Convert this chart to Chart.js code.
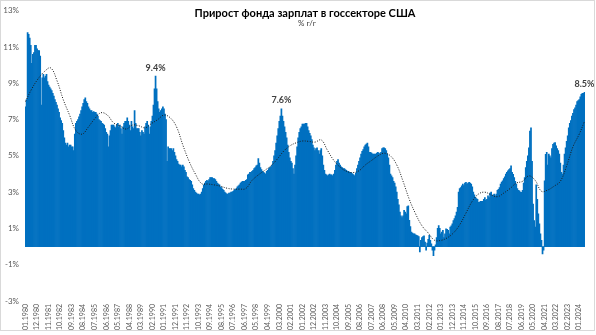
<!DOCTYPE html>
<html lang="ru">
<head>
<meta charset="utf-8">
<title>Прирост фонда зарплат в госсекторе США</title>
<script src="https://cdn.jsdelivr.net/npm/chart.js@4.4.1/dist/chart.umd.min.js"></script>
<style>
  html, body { margin: 0; padding: 0; background: #fff; }
  canvas { display: block; }
</style>
</head>
<body>
<canvas id="grafik" width="596" height="335"></canvas>
<script>
// Первый месяц ряда и количество месяцев (01.1980 - 06.2024)
const nachaloGod = 1980;
const chisloMesyatsev = 534;

// Прирост фонда зарплат, % г/г, помесячно (по строке на год)
const prirost = [
    7.7, 8.1, 11.8, 11.7, 11.5, 11.1, 10.1, 10.6, 10.7, 11.1, 11.1, 10.9,
    10.8, 10.8, 10.5, 7.8, 9.3, 9.5, 9.3, 9.4, 9.5, 9.1, 8.9, 8.8,
    8.7, 8.6, 8.45, 8.3, 8.1, 7.95, 7.8, 7.6, 7.4, 7.1, 6.95, 6.8,
    6.4, 6.0, 5.7, 5.6, 5.7, 5.5, 5.6, 5.6, 5.5, 5.5, 5.3, 6.2,
    6.8, 6.9, 7.0, 7.15, 7.3, 7.5, 7.7, 7.9, 8.1, 8.2, 8.0, 7.9,
    7.7, 7.6, 7.5, 7.5, 7.4, 7.45, 7.4, 7.4, 7.3, 7.2, 7.0, 6.95,
    6.9, 6.8, 6.75, 6.7, 6.5, 6.3, 6.2, 5.5, 6.1, 6.4, 6.7, 6.7,
    6.7, 6.6, 6.55, 6.7, 6.8, 6.6, 6.7, 6.5, 6.2, 6.6, 6.8, 6.9,
    6.9, 7.1, 6.9, 6.7, 6.4, 6.9, 6.6, 6.5, 7.5, 6.8, 6.5, 6.5,
    6.5, 6.3, 6.1, 6.4, 6.3, 6.2, 6.6, 6.8, 6.9, 6.7, 6.2, 6.6,
    6.9, 7.2, 7.8, 8.7, 9.4, 8.7, 8.0, 7.6, 7.4, 7.5, 7.6, 7.7,
    7.6, 7.3, 7.0, 4.7, 5.5, 5.4, 5.4, 5.4, 5.3, 5.4, 5.2, 5.0,
    4.8, 4.7, 4.55, 4.5, 4.5, 4.4, 4.5, 4.4, 4.2, 4.1, 3.85, 3.8,
    3.7, 3.65, 3.6, 3.4, 3.2, 3.1, 3.0, 2.95, 2.9, 2.9, 2.85, 2.9,
    3.0, 3.2, 3.4, 3.5, 3.6, 3.65, 3.6, 3.7, 3.8, 3.8, 3.8, 3.75,
    3.75, 3.7, 3.6, 3.5, 3.45, 3.4, 3.3, 3.25, 3.15, 3.1, 3.0, 2.95,
    2.9, 2.9, 2.95, 2.95, 3.0, 3.0, 3.05, 3.1, 3.15, 3.2, 3.3, 3.35,
    3.4, 3.5, 3.55, 3.6, 3.6, 3.6, 3.65, 3.7, 3.95, 4.0, 4.1, 4.1,
    4.15, 4.2, 4.3, 4.35, 4.45, 4.5, 4.85, 4.6, 4.35, 4.25, 4.15, 4.1,
    4.05, 4.0, 4.15, 4.2, 4.3, 4.35, 4.4, 4.5, 4.7, 5.0, 5.3, 5.7,
    6.1, 6.5, 6.9, 7.2, 7.6, 7.2, 6.9, 6.6, 6.3, 6.0, 5.6, 5.2,
    4.9, 4.7, 4.6, 4.3, 4.0, 4.5, 5.0, 5.5, 6.0, 6.3, 6.5, 6.6,
    6.75, 6.75, 6.75, 6.8, 6.8, 6.6, 6.4, 6.25, 6.1, 5.9, 5.6, 5.45,
    5.3, 5.4, 5.45, 5.3, 5.1, 5.3, 5.4, 5.0, 4.5, 4.2, 4.0, 3.95,
    3.9, 3.95, 4.0, 3.95, 3.95, 3.9, 4.0, 4.2, 4.5, 4.7, 4.8, 4.6,
    4.5, 4.4, 4.35, 4.3, 4.3, 4.25, 4.2, 4.15, 4.15, 4.1, 4.1, 4.05,
    4.0, 3.95, 3.9, 4.05, 4.3, 4.5, 4.7, 4.9, 5.1, 5.25, 5.35, 5.5,
    5.6, 5.65, 5.7, 5.5, 5.2, 5.2, 5.15, 5.1, 5.1, 5.1, 5.1, 5.15,
    5.2, 5.15, 5.1, 5.2, 5.4, 5.45, 5.45, 5.4, 5.3, 5.1, 4.9, 4.5,
    4.0, 3.9, 3.8, 3.6, 3.5, 3.3, 3.0, 2.6, 2.3, 1.9, 1.7, 1.6,
    1.7, 2.0, 1.9, 1.8, 2.2, 2.25, 1.45, 1.1, 0.8, 0.75, 0.7, 0.7,
    0.65, 0.62, 0.6, 0.55, -0.3, 0.34, 0.5, 0.55, 0.6, 0.25, -0.2, 0.2,
    0.4, 0.62, 0.35, 0.15, -0.2, -0.5, -0.2, 0.1, 0.5, 1.0, 1.16, 1.0,
    0.7, 0.8, 0.9, 0.5, 0.7, 0.98, 0.95, 0.9, 0.7, 1.07, 1.15, 1.26,
    1.44, 1.55, 1.7, 1.9, 2.17, 3.0, 3.2, 3.26, 3.35, 3.45, 3.36, 3.5,
    3.54, 3.45, 3.5, 3.54, 3.5, 3.45, 3.3, 3.0, 2.85, 2.72, 2.65, 2.6,
    2.44, 2.45, 2.5, 2.5, 2.5, 2.6, 2.7, 2.55, 2.6, 2.8, 2.7, 2.95,
    3.0, 2.8, 2.85, 2.9, 2.8, 2.9, 3.1, 3.15, 3.25, 3.45, 3.55, 3.63,
    3.75, 3.85, 4.0, 4.1, 4.18, 4.25, 4.3, 4.45, 4.1, 3.99, 3.81, 3.6,
    3.45, 3.2, 3.1, 3.08, 3.0, 2.99, 3.1, 3.5, 3.8, 4.36, 4.7, 5.0,
    5.45, 6.37, 6.55, 4.7, 2.35, 1.44, 1.07, 3.4, 2.6, 1.8, 1.26, 0.7,
    0.34, -0.4, -0.2, 3.63, 5.09, 5.2, 4.5, 5.1, 5.0, 4.9, 5.4, 5.64,
    5.7, 5.73, 5.55, 5.4, 5.3, 5.1, 4.6, 4.1, 4.0, 4.5, 5.1, 5.45,
    5.8, 6.1, 6.55, 6.8, 6.95, 7.2, 7.35, 7.56, 7.65, 7.8, 8.0, 8.05,
    8.1, 8.25, 8.4, 8.45, 8.45, 8.5,
];

// Сглаженная линия тренда: значения раз в полгода (последнее - на последний месяц)
const shagTrenda = 6;
const trend = [
    8.0, 8.7, 9.25, 9.65, 9.85, 9.15, 8.1, 7.25, 6.4, 6.2,
    6.6, 7.05, 7.38, 7.25, 6.82, 6.65, 6.48, 6.7, 6.66, 6.55,
    6.78, 7.0, 7.25, 7.1, 6.6, 5.6, 4.7, 4.0, 3.47, 3.45,
    3.4, 3.33, 3.22, 3.17, 3.17, 3.2, 3.65, 3.95, 4.2, 4.45,
    4.82, 5.25, 5.55, 5.72, 5.82, 5.8, 5.76, 5.88, 5.3, 4.75,
    4.38, 4.15, 4.08, 4.18, 4.5, 4.75, 5.0, 5.15, 5.0, 4.5,
    3.6, 2.6, 1.8, 1.15, 0.75, 0.35, 0.34, 0.48, 0.75, 1.2,
    1.85, 2.5, 2.9, 3.0, 2.85, 2.75, 2.95, 3.2, 3.5, 3.6,
    3.9, 3.65, 3.05, 3.12, 3.33, 3.6, 4.45, 5.5, 6.2, 6.9,
];

// Месяцы с подписанными значениями (пики 1990, 2000 и последний месяц)
const podpisannye = [124, 244, 533];

// Подпись оси X ставится раз в 11 месяцев
const shagPodpisey = 11;

// Подписи месяцев в формате ММ.ГГГГ
const mesyatsy = [];
for (let i = 0; i < chisloMesyatsev; i++) {
    const m = (i % 12) + 1;
    const g = nachaloGod + Math.floor(i / 12);
    mesyatsy.push((m < 10 ? '0' + m : '' + m) + '.' + g);
}

const tochkiTrenda = trend.map((v, k) => ({
    x: mesyatsy[Math.min(k * shagTrenda, chisloMesyatsev - 1)],
    y: v,
}));

const shrift = 'Lato, "Liberation Sans", Arial, sans-serif';

// Фон, рамка, заголовок и подписи значений
const oformlenie = {
    id: 'oformlenie',
    beforeDraw(chart) {
        const ctx = chart.ctx;
        ctx.save();
        ctx.fillStyle = '#ffffff';
        ctx.fillRect(0, 0, chart.width, chart.height);
        ctx.strokeStyle = '#d9d9d9';
        ctx.lineWidth = 1;
        ctx.strokeRect(0.5, 0.5, 594, 330);
        ctx.restore();
    },
    afterDraw(chart) {
        const ctx = chart.ctx;
        ctx.save();
        ctx.textAlign = 'center';
        ctx.textBaseline = 'middle';
        ctx.fillStyle = '#000000';
        ctx.font = 'bold 11px ' + shrift;
        ctx.fillText('Прирост фонда зарплат в госсекторе США', 305, 13);
        ctx.fillStyle = '#404040';
        ctx.font = '8px ' + shrift;
        ctx.fillText('% г/г', 307, 23);

        // столбцы - второй набор данных
        const meta = chart.getDatasetMeta(1);
        ctx.font = 'bold 9px ' + shrift;
        ctx.fillStyle = '#404040';
        ctx.textBaseline = 'bottom';
        podpisannye.forEach(i => {
            const bar = meta.data[i];
            ctx.fillText(prirost[i].toFixed(1) + '%', bar.x, bar.y - 4);
        });
        ctx.restore();
    },
};

new Chart(document.getElementById('grafik'), {
    type: 'bar',
    data: {
        labels: mesyatsy,
        datasets: [
            {
                type: 'line',
                data: tochkiTrenda,
                borderColor: '#1a1a1a',
                borderWidth: 1,
                borderDash: [1, 1.5],
                pointRadius: 0,
                tension: 0.4,
                order: 0,
            },
            {
                data: prirost,
                backgroundColor: '#0070c0',
                borderWidth: 0,
                barPercentage: 1,
                categoryPercentage: 1,
                order: 1,
            },
        ],
    },
    options: {
        responsive: false,
        animation: false,
        events: [],
        layout: { padding: { top: 9, right: 11, left: 0, bottom: 0 } },
        plugins: {
            legend: { display: false },
            tooltip: { enabled: false },
        },
        scales: {
            x: {
                grid: { display: false, drawTicks: false },
                border: { display: false },
                ticks: {
                    autoSkip: false,
                    minRotation: 90,
                    maxRotation: 90,
                    padding: 3,
                    color: '#595959',
                    font: { family: shrift, size: 7 },
                    callback: function (val, idx) {
                        return idx % shagPodpisey === 0 ? this.getLabelForValue(val) : '';
                    },
                },
                afterFit: scale => { scale.height = 34; },
            },
            y: {
                min: -3,
                max: 13,
                grid: { display: false, drawTicks: false },
                border: { display: false },
                ticks: {
                    stepSize: 2,
                    padding: 6,
                    color: '#595959',
                    font: { family: shrift, size: 8 },
                    callback: v => v + '%',
                },
                afterFit: scale => { scale.width = 25; },
            },
        },
    },
    plugins: [oformlenie],
});
</script>
</body>
</html>
